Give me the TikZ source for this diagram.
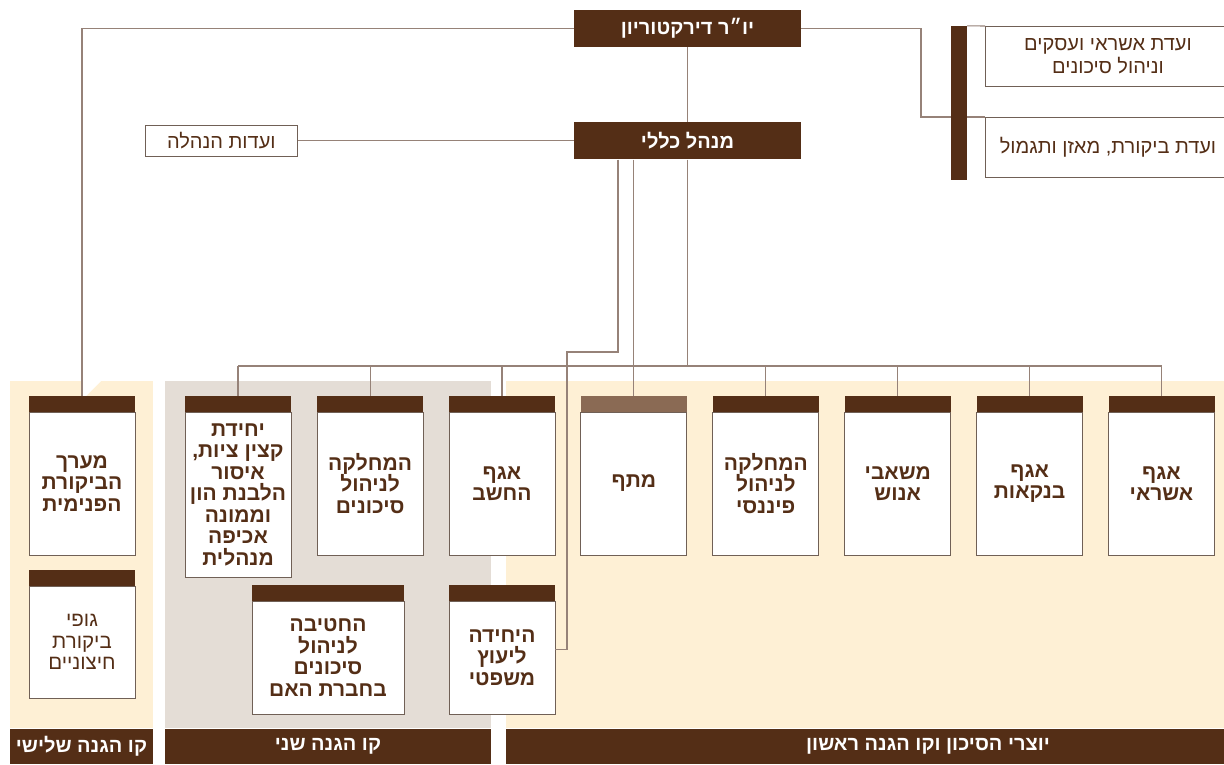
\documentclass[tikz,border=0pt]{standalone}
\usepackage{fontspec}
\setmainfont{Liberation Sans}
\newfontfamily\hebfont[Script=Hebrew]{Liberation Sans}
\TeXXeTstate=1
\newcommand{\hb}[1]{\beginR#1\endR}
\usetikzlibrary{positioning}

\definecolor{darkbrown}{RGB}{84,46,22}
\definecolor{mtfbrown}{RGB}{138,106,84}
\definecolor{cream}{RGB}{254,240,213}
\definecolor{panelgray}{RGB}{228,221,214}
\definecolor{wireclr}{RGB}{150,130,120}
\definecolor{edgeclr}{RGB}{112,96,86}

\begin{document}
\begin{tikzpicture}[
    x=1pt, y=-1pt,
    node distance=25pt,
    wire/.style={draw=wireclr, line width=1.1pt},
    topbox/.style={rectangle, fill=darkbrown, text=white, minimum width=227pt, minimum height=37pt, font=\hebfont\bfseries\fontsize{20}{22}\selectfont},
    outline/.style={rectangle, draw=edgeclr, line width=0.9pt, fill=white, text=darkbrown, align=center, font=\hebfont\fontsize{20}{23}\selectfont},
    card/.style={rectangle, draw=edgeclr, line width=0.9pt, fill=white, minimum width=106pt, minimum height=143pt, inner sep=1pt, align=center, text=darkbrown, font=\hebfont\bfseries\fontsize{21}{21.5}\selectfont},
    hdr/.style={rectangle, fill=darkbrown, minimum width=106pt, minimum height=16pt, inner sep=0pt, outer sep=0pt},
    barnode/.style={rectangle, fill=darkbrown, minimum height=35pt, inner sep=0pt, text=white, font=\hebfont\bfseries\fontsize{20}{22}\selectfont}
]
\useasboundingbox (0,0) rectangle (1224,764);
\fill[white] (0,0) rectangle (1224,764);

% panels for the three lines of defence
\fill[cream] (10,381) rectangle (153,728);
\fill[white] (82,381) -- (101,381) -- (86,396) -- (82,396) -- cycle;
\fill[panelgray] (165,381) rectangle (491,728);
\fill[cream] (506,381) rectangle (1224,728);

\node[barnode, minimum width=143pt] (line3) at (81.5,746.5) {\hb{קו הגנה שלישי}};
\node[barnode, minimum width=326pt] (line2) at (328,746.5) {\hb{קו הגנה שני}};
\node[barnode, minimum width=718pt] (line1) at (865,746.5) {};
\node[barnode, fill=none] (line1-txt) at ([xshift=63pt]line1.center) {\hb{יוצרי הסיכון וקו הגנה ראשון}};

% top of the chart
\node[topbox] (chair) at (687.5,28.5) {\hb{יו״ר דירקטוריון}};
\node[topbox, below=75pt of chair] (gm) {\hb{מנהל כללי}};
\node[outline, minimum width=152pt, minimum height=31pt, left=276pt of gm] (mgmt) {\hb{ועדות הנהלה}};

\node[rectangle, fill=darkbrown, minimum width=16pt, minimum height=154pt, inner sep=0pt] (cbar) at (959,103) {};
\node[outline, minimum width=245pt, minimum height=60pt, anchor=north west] (credcomm) at (985,26) {\hb{ועדת אשראי ועסקים}\\\hb{וניהול סיכונים}};
\node[outline, minimum width=245pt, minimum height=60pt, anchor=north west] (auditcomm) at (985,117) {\hb{ועדת ביקורת, מאזן ותגמול}};

% first row of units
\node[card, label={[hdr, name=credit-h]north:{}}] (credit) at (1161.5,483.5) {\hb{אגף}\\\hb{אשראי}};
\node[card, left=of credit, label={[hdr, name=banking-h]north:{}}] (banking) {\hb{אגף}\\\hb{בנקאות}};
\node[card, left=of banking, label={[hdr, name=hr-h]north:{}}] (hr) {\hb{משאבי}\\\hb{אנוש}};
\node[card, left=of hr, label={[hdr, name=finance-h]north:{}}] (finance) {\hb{המחלקה}\\\hb{לניהול}\\\hb{פיננסי}};
\node[card, left=of finance, label={[hdr, fill=mtfbrown, name=mtf-h]north:{}}] (mtf) {\hb{מתף}};
\node[card, left=of mtf, label={[hdr, name=treasury-h]north:{}}] (treasury) {\hb{אגף}\\\hb{החשב}};
\node[card, left=of treasury, label={[hdr, name=risk-h]north:{}}] (risk) {\hb{המחלקה}\\\hb{לניהול}\\\hb{סיכונים}};
\node[card, minimum height=165pt, label={[hdr, name=compliance-h]north:{}}] (compliance) at (238,494.5)
    {\hb{יחידת}\\\hb{קצין ציות,}\\\hb{איסור}\\\hb{הלבנת הון}\\\hb{וממונה}\\\hb{אכיפה}\\\hb{מנהלית}};
\node[card, label={[hdr, name=audit-h]north:{}}] (audit) at (82,483.5) {\hb{מערך}\\\hb{הביקורת}\\\hb{הפנימית}};

% second row
\node[card, minimum height=112pt, font=\hebfont\fontsize{20.5}{21.5}\selectfont, label={[hdr, name=external-h]north:{}}] (external) at (82,642)
    {\hb{גופי}\\\hb{ביקורת}\\\hb{חיצוניים}};
\node[card, minimum width=152pt, minimum height=113pt, label={[hdr, minimum width=152pt, name=parent-h]north:{}}] (parent) at (328,657.5)
    {\hb{החטיבה}\\\hb{לניהול}\\\hb{סיכונים}\\\hb{בחברת האם}};
\node[card, minimum height=113pt, label={[hdr, name=legal-h]north:{}}] (legal) at (502,657.5) {\hb{היחידה}\\\hb{ליעוץ}\\\hb{משפטי}};

% connectors
\coordinate (busy) at (687.5,366);
\coordinate (cjog) at (921,117);
\coordinate (ljog) at (567,352);

\draw[wire] (chair.west) -| (audit-h.north);
\draw[wire] (chair.east) -| (cjog) -- (cjog -| cbar.west);
\draw[wire] (cbar.north east) -- (credcomm.north west);
\draw[wire] (cbar.east |- auditcomm.north) -- (auditcomm.north west);
\draw[wire] (chair.south) -- (gm.north);
\draw[wire] (mgmt.east) -- (gm.west);
\draw[wire] (gm.south) -- (busy);
\draw[wire] (compliance-h.north |- busy) -- (credit-h.north |- busy);
\foreach \u in {credit,banking,hr,finance,treasury,risk,compliance}
    \draw[wire] (\u-h.north |- busy) -- (\u-h.north);
\draw[wire] (mtf-h.north |- gm.south) -- (mtf-h.north);
\draw[wire] ([xshift=-69.5pt]gm.south) |- (ljog) |- ([yshift=8pt]legal.east);
\end{tikzpicture}
\end{document}
